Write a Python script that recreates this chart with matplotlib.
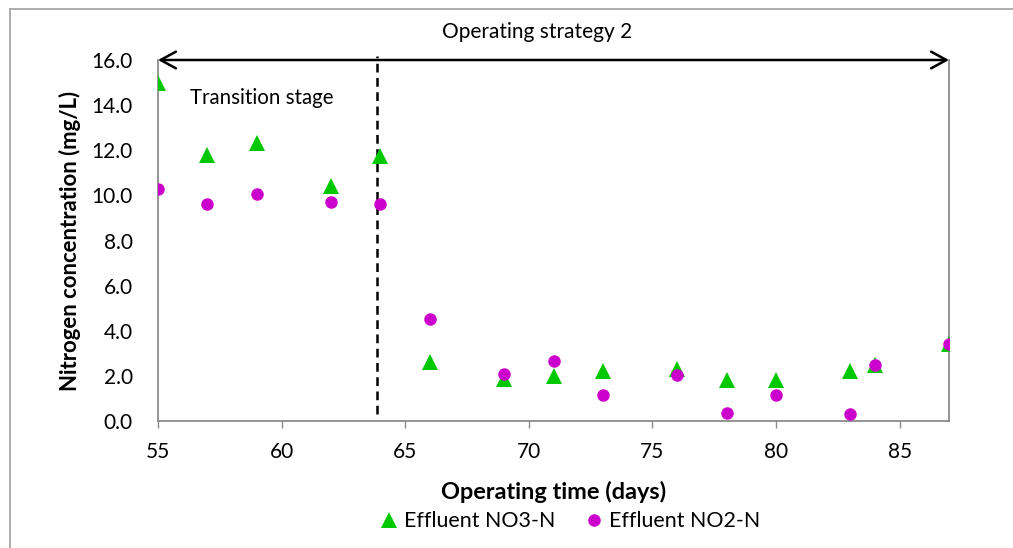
import matplotlib
matplotlib.use("Agg")
import matplotlib.pyplot as plt
from matplotlib.lines import Line2D

# Sampling days and effluent nitrogen concentrations (mg/L)
days = [55, 57, 59, 62, 64, 66, 69, 71, 73, 76, 78, 80, 83, 84, 87]
no3_n = [15.0, 11.8, 12.3, 10.4, 11.75, 2.6, 1.85, 2.0, 2.2, 2.3, 1.8, 1.8, 2.2, 2.5, 3.4]
no2_n = [10.27, 9.6, 10.05, 9.7, 9.6, 4.5, 2.1, 2.67, 1.15, 2.05, 0.35, 1.15, 0.3, 2.5, 3.4]

x_ticks = [55, 60, 65, 70, 75, 80, 85]
y_ticks = [0, 2, 4, 6, 8, 10, 12, 14, 16]
stage_boundary = 63.85

GREEN = "#00C800"
MAGENTA = "#CC00CC"
AXIS_GRAY = "#8C8C8C"

plt.rcParams["font.family"] = ["Lato", "DejaVu Sans"]

fig = plt.figure(figsize=(10.13, 5.48), dpi=100)
ax = fig.add_axes([158 / 1013, 1 - 421 / 548, (949 - 158) / 1013, (421 - 60) / 548])

ax.plot(days, no3_n, linestyle="none", marker="^", markersize=11, color=GREEN,
        markeredgewidth=0, label="Effluent NO3-N", zorder=3)
ax.plot(days, no2_n, linestyle="none", marker="o", markersize=9, color=MAGENTA,
        markeredgewidth=0, label="Effluent NO2-N", zorder=4)

ax.set_xlim(55, 87)
ax.set_ylim(0, 16)
ax.set_xticks(x_ticks)
ax.set_yticks(y_ticks)
ax.set_yticklabels([f"{v:.1f}" for v in y_ticks])
ax.tick_params(axis="x", direction="out", length=5, width=1, color=AXIS_GRAY,
               labelsize=15, pad=10)
ax.tick_params(axis="y", length=0, labelsize=15, pad=18)

for side in ("left", "bottom", "right"):
    ax.spines[side].set_color(AXIS_GRAY)
    ax.spines[side].set_linewidth(1.3)
ax.spines["top"].set_visible(False)

ax.set_xlabel("Operating time (days)", fontsize=16.9, fontweight="bold", labelpad=14)
ax.set_ylabel("Nitrogen concentration (mg/L)", fontsize=15.9, fontweight="bold", labelpad=8)

# Transition boundary
ax.axvline(stage_boundary, ymin=0.02, ymax=1.01, color="black", linewidth=1.8,
           linestyle=(0, (3.5, 2.2)), clip_on=False, zorder=2)

# Double-headed arrow spanning the operating period
ax.annotate("", xy=(87, 16), xytext=(55, 16), xycoords="data", textcoords="data",
            arrowprops=dict(arrowstyle="<->,head_length=0.55,head_width=0.3",
                            color="black", linewidth=1.8, mutation_scale=20,
                            shrinkA=0, shrinkB=0),
            annotation_clip=False, zorder=5)
ax.text(70.33, 17.22, "Operating strategy 2", ha="center", va="center", fontsize=15)
ax.text(59.2, 14.3, "Transition stage", ha="center", va="center", fontsize=14.8)

handles = [
    Line2D([], [], linestyle="none", marker="^", markersize=11, color=GREEN, markeredgewidth=0),
    Line2D([], [], linestyle="none", marker="o", markersize=9, color=MAGENTA, markeredgewidth=0),
]
fig.legend(handles, ["Effluent NO3-N", "Effluent NO2-N"], loc="center",
           bbox_to_anchor=(569 / 1013, 1 - 521 / 548), ncol=2, frameon=False,
           fontsize=15.4, handlelength=1.0, handletextpad=0.2, columnspacing=1.32,
           borderpad=0, borderaxespad=0)

# Outer chart border
fig.add_artist(Line2D([10 / 1013, 10 / 1013], [0, 1 - 9 / 548], transform=fig.transFigure,
                      color="#A0A0A0", linewidth=1.2))
fig.add_artist(Line2D([10 / 1013, 1], [1 - 9 / 548, 1 - 9 / 548], transform=fig.transFigure,
                      color="#A0A0A0", linewidth=1.2))

fig.savefig("out.png", dpi=100)
